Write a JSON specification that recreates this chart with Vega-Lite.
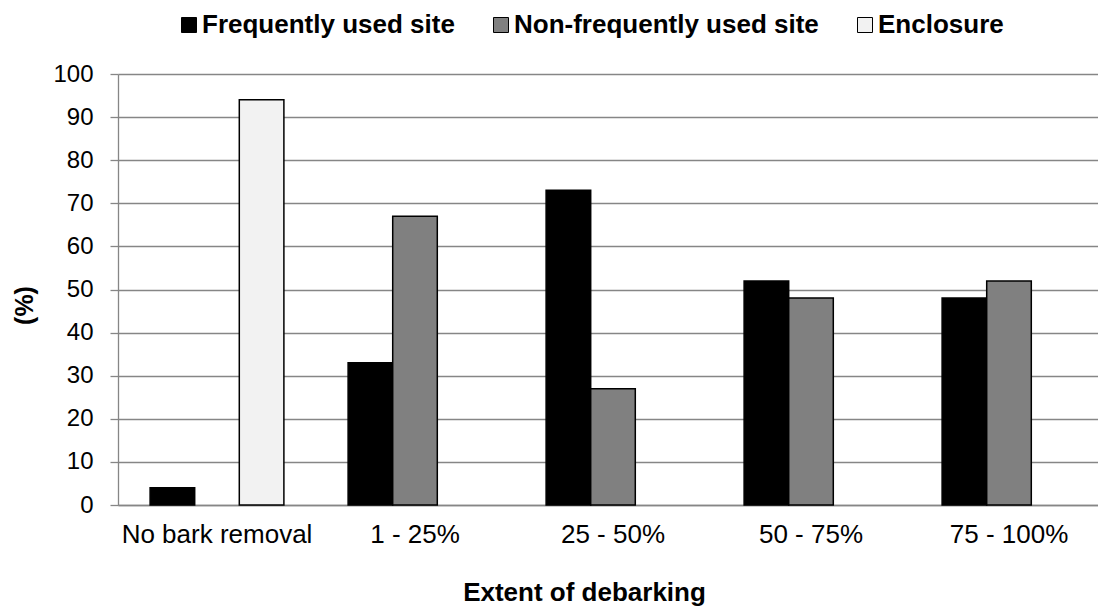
{
  "$schema": "https://vega.github.io/schema/vega-lite/v6.json",
  "width": 980,
  "height": 431,
  "autosize": {"type": "none"},
  "padding": {"left": 118, "top": 74, "right": 0, "bottom": 110},
  "background": "white",
  "config": {"view": {"stroke": null}, "font": "Liberation Sans"},
  "data": {
    "values": [
      {"extent": "No bark removal", "site": "Frequently used site", "pct": 4},
      {"extent": "No bark removal", "site": "Enclosure", "pct": 94},
      {"extent": "1 - 25%", "site": "Frequently used site", "pct": 33},
      {"extent": "1 - 25%", "site": "Non-frequently used site", "pct": 67},
      {"extent": "25 - 50%", "site": "Frequently used site", "pct": 73},
      {"extent": "25 - 50%", "site": "Non-frequently used site", "pct": 27},
      {"extent": "50 - 75%", "site": "Frequently used site", "pct": 52},
      {"extent": "50 - 75%", "site": "Non-frequently used site", "pct": 48},
      {"extent": "75 - 100%", "site": "Frequently used site", "pct": 48},
      {"extent": "75 - 100%", "site": "Non-frequently used site", "pct": 52}
    ]
  },
  "mark": {"type": "bar", "stroke": "black", "strokeWidth": 1.5},
  "encoding": {
    "x": {
      "field": "extent",
      "type": "nominal",
      "sort": ["No bark removal", "1 - 25%", "25 - 50%", "50 - 75%", "75 - 100%"],
      "scale": {"range": [0, 990], "paddingInner": 0, "paddingOuter": 0},
      "axis": {
        "title": "Extent of debarking",
        "titleFont": "Liberation Sans",
        "titleFontSize": 26,
        "titleFontWeight": "bold",
        "titleColor": "black",
        "titleX": 466,
        "titleY": 95,
        "titleAlign": "center",
        "titleBaseline": "alphabetic",
        "labelFontSize": 26,
        "labelColor": "black",
        "labelAngle": 0,
        "labelPadding": 16,
        "labelLimit": 400,
        "ticks": false,
        "domainColor": "#868686",
        "domainWidth": 1.3,
        "grid": false
      }
    },
    "xOffset": {
      "field": "site",
      "type": "nominal",
      "scale": {
        "domain": ["Frequently used site", "Non-frequently used site", "Enclosure"],
        "paddingOuter": 0.72,
        "paddingInner": 0
      }
    },
    "y": {
      "field": "pct",
      "type": "quantitative",
      "scale": {"domain": [0, 100], "nice": false},
      "axis": {
        "values": [0, 10, 20, 30, 40, 50, 60, 70, 80, 90, 100],
        "title": "(%)",
        "titleFontSize": 25,
        "titleFontWeight": "bold",
        "titleColor": "black",
        "titleX": -94,
        "titleY": 231,
        "titleAngle": 270,
        "titleAlign": "center",
        "titleBaseline": "middle",
        "labelFontSize": 24,
        "labelColor": "black",
        "labelPadding": 17,
        "tickSize": 8,
        "tickColor": "#868686",
        "tickWidth": 1.3,
        "domainColor": "#868686",
        "domainWidth": 1.3,
        "grid": true,
        "gridColor": "#868686",
        "gridWidth": 1.3
      }
    },
    "fill": {
      "field": "site",
      "type": "nominal",
      "scale": {
        "domain": ["Frequently used site", "Non-frequently used site", "Enclosure"],
        "range": ["#000000", "#808080", "#f2f2f2"]
      },
      "legend": {
        "orient": "none",
        "legendX": 58,
        "legendY": -62,
        "direction": "horizontal",
        "title": null,
        "padding": 0,
        "symbolType": "square",
        "symbolSize": 225,
        "symbolStrokeColor": "black",
        "symbolStrokeWidth": 1,
        "labelFontSize": 26,
        "labelFontWeight": "bold",
        "labelColor": "black",
        "labelOffset": 0,
        "labelLimit": 500,
        "columnPadding": 33
      }
    }
  }
}
